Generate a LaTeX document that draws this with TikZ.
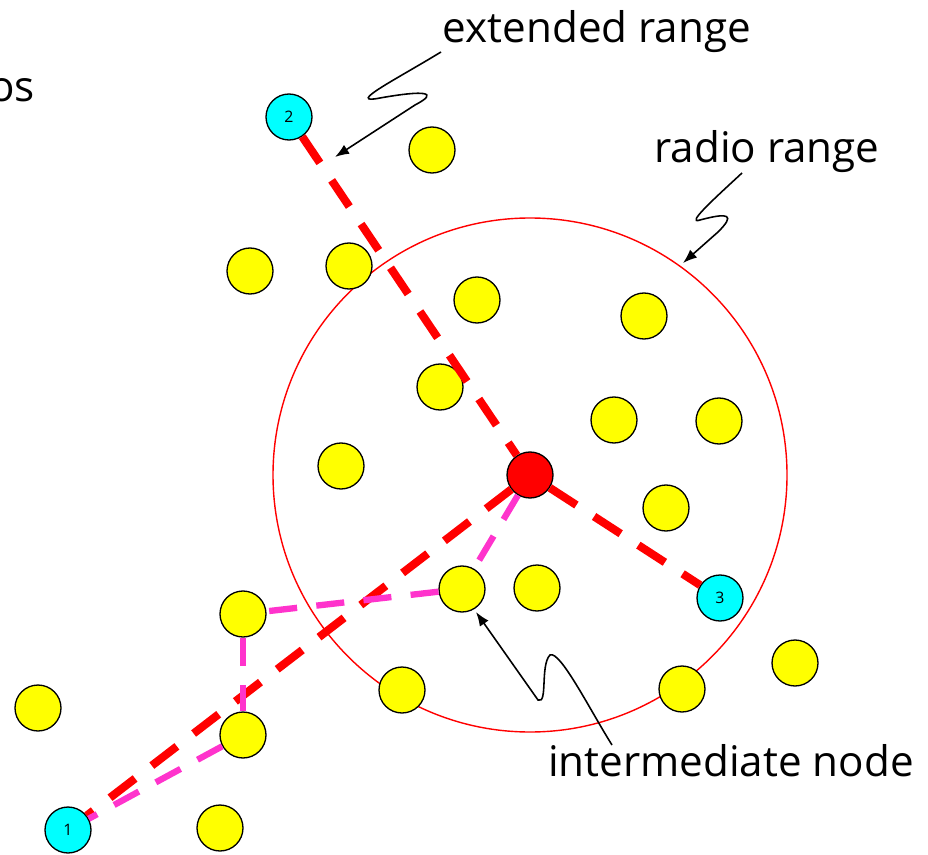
\documentclass[tikz,border=0pt]{standalone}
\usepackage{fontspec}
\setmainfont{Open Sans}
\usetikzlibrary{arrows.meta}
\definecolor{hopred}{HTML}{FF0000}
\definecolor{hoppink}{HTML}{FF33CC}
\definecolor{endcyan}{HTML}{00FFFF}
\definecolor{relyellow}{HTML}{FFFF00}
\begin{document}
\begin{tikzpicture}[x=0.02cm,y=-0.02cm,
  mote/.style={circle,draw=black,line width=0.75pt,minimum size=0.92cm,inner sep=0pt,fill=relyellow},
  endpt/.style={mote,fill=endcyan,font=\fontsize{9}{10}\selectfont},
  longhop/.style={hopred,line width=4.6pt,dash pattern=on 18pt off 12pt},
  shorthop/.style={hoppink,line width=3.6pt,dash pattern=on 16pt off 11pt},
  callout/.style={font=\fontsize{24}{29}\selectfont,anchor=base},
  squiggle/.style={black,line width=0.9pt,-{Latex[length=8pt,width=6pt]}}]
  \useasboundingbox (0,0) rectangle (928,854);
  % radio range around the source
  \draw[hopred,line width=0.8pt] (530,475) circle (257);
  % yellow motes
  \node[mote] (m1) at (432,150) {};
  \node[mote] (m2) at (250,271) {};
  \node[mote] (m3) at (349,266) {};
  \node[mote] (m4) at (477,300) {};
  \node[mote] (m5) at (644,316) {};
  \node[mote] (m6) at (440,387) {};
  \node[mote] (m7) at (614,420) {};
  \node[mote] (m8) at (719,421) {};
  \node[mote] (m9) at (341,466) {};
  \node[mote] (m10) at (666,508) {};
  \node[mote] (inter) at (462,589) {};
  \node[mote] (m12) at (537,588) {};
  \node[mote] (m13) at (243,614) {};
  \node[mote] (m14) at (38,708) {};
  \node[mote] (m15) at (402,690) {};
  \node[mote] (m16) at (682,689) {};
  \node[mote] (m17) at (795,663) {};
  \node[mote] (m18) at (243,735) {};
  \node[mote] (m19) at (220,828) {};
  % source and destinations
  \node[mote,fill=hopred] (src) at (530,475) {};
  \node[endpt] (d1) at (68,830) {1};
  \node[endpt] (d2) at (289,117) {2};
  \node[endpt] (d3) at (720,598) {3};
  % direct long links
  \draw[longhop] (d2) -- (src);
  \draw[longhop] (src) -- (d3);
  \draw[longhop] (src) -- (d1);
  % multihop path
  \draw[shorthop] (src) -- (inter);
  \draw[shorthop] (inter) -- (m13);
  \draw[shorthop] (m13) -- (m18);
  \draw[shorthop] (m18) -- (d1);
  % labels
  \node[callout,anchor=base east] (os) at (41,102) {os};
  \node[callout] (ext) at (597,43) {extended range};
  \node[callout] (radio) at (767,163) {radio range};
  \node[callout] (imed) at (731,776) {intermediate node};
  \coordinate (ext0) at (441,52);
  \coordinate (ext1) at (335,157);
  \coordinate (radio0) at (742,173);
  \coordinate (radio1) at (683,263);
  \coordinate (imed0) at (612,745);
  \coordinate (imed1) at (476,612);
  \draw[squiggle] (ext0) .. controls (395,80) and (345,105) .. (380,98)
    .. controls (425,90) and (440,92) .. (415,105) -- (ext1);
  \draw[squiggle] (radio0) .. controls (715,198) and (685,225) .. (700,220)
    .. controls (730,212) and (735,215) .. (718,232) -- (radio1);
  \draw[squiggle] (imed0) .. controls (590,710) and (560,650) .. (550,655)
    .. controls (540,665) and (548,705) .. (538,700) -- (imed1);
\end{tikzpicture}
\end{document}
